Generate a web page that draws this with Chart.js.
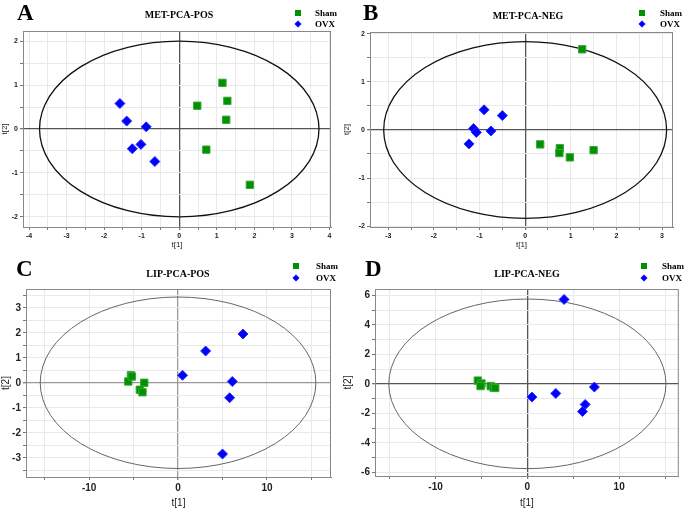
<!DOCTYPE html>
<html>
<head>
<meta charset="utf-8">
<script src="https://cdn.jsdelivr.net/npm/chart.js@4.4.1/dist/chart.umd.min.js"></script>
<style>
  body { margin: 0; background: #fff; }
  #wrap { position: relative; width: 685px; height: 509px; overflow: hidden; }
  .panel { position: absolute; }
  .panel canvas { position: absolute; left: 0; top: 0; }
  .letter { position: absolute; font: bold 23px "Liberation Serif", "Times New Roman", serif; color: #000; line-height: 1; }
  .title { position: absolute; font: bold 10px "Liberation Serif", "Times New Roman", serif; color: #000; transform: translate(-50%, -50%); white-space: nowrap; }
  .leg { position: absolute; font: bold 9px "Liberation Serif", "Times New Roman", serif; color: #000; white-space: nowrap; transform: translateY(-50%); }
  .sq { position: absolute; width: 6px; height: 6px; background: #009000; transform: translate(-50%, -50%); }
  .dm { position: absolute; width: 5px; height: 5px; background: #0000ff; transform: translate(-50%, -50%) rotate(45deg); }
</style>
</head>
<body>
<div id="wrap"></div>
<script>
// score values t[1], t[2]
const metPosSham = [[1.15, 1.05], [1.28, 0.64], [0.48, 0.53], [1.25, 0.21], [0.72, -0.47], [1.88, -1.27]];
const metPosOvx = [[-1.58, 0.58], [-1.40, 0.18], [-0.88, 0.05], [-1.25, -0.45], [-1.02, -0.35], [-0.65, -0.74]];

const metNegSham = [[1.25, 1.68], [0.33, -0.30], [0.76, -0.38], [0.75, -0.48], [0.98, -0.57], [1.50, -0.42]];
const metNegOvx = [[-0.90, 0.42], [-0.50, 0.30], [-1.13, 0.03], [-1.07, -0.05], [-0.75, -0.02], [-1.23, -0.29]];

const lipPosSham = [[-5.3, 0.30], [-5.6, 0.05], [-3.8, 0.00], [-4.3, -0.28], [-4.0, -0.38], [-5.2, 0.25]];
const lipPosOvx = [[7.3, 1.95], [3.1, 1.27], [0.5, 0.30], [6.1, 0.05], [5.8, -0.60], [5.0, -2.85]];

const lipNegSham = [[-5.4, 0.22], [-5.0, 0.02], [-5.1, -0.15], [-4.0, -0.15], [-3.7, -0.25], [-3.5, -0.28]];
const lipNegOvx = [[4.0, 5.72], [0.5, -0.90], [3.1, -0.65], [7.3, -0.22], [6.3, -1.40], [6.0, -1.88]];

const groupNames = ['Sham', 'OVX'];

// Hotelling ellipse radii (t1, t2) per panel
const ellipseRadii = { A: [3.72, 2.0], B: [3.1, 1.84], C: [15.5, 3.43], D: [15.1, 5.75] };

const panels = [
  { id: 'A', title: 'MET-PCA-POS', sham: metPosSham, ovx: metPosOvx,
    left: 0, top: 0, w: 342, h: 250, pad: { top: 31, right: 11 }, yW: 23, xH: 23,
    x: [-4.16, 4.04, 0.5, 1], y: [-2.23, 2.23, 0.5, 1], small: true,
    ell: '#111', ellW: 1.3, zero: '#555',
    titleXY: [179, 14], legXY: [298, 13, 24], legText: 315, letterXY: [17, 1] },
  { id: 'B', title: 'MET-PCA-NEG', sham: metNegSham, ovx: metNegOvx,
    left: 342, top: 0, w: 343, h: 250, pad: { top: 32, right: 12 }, yW: 28, xH: 23,
    x: [-3.4, 3.24, 0.5, 1], y: [-2.02, 2.04, 0.5, 1], small: true,
    ell: '#111', ellW: 1.3, zero: '#555',
    titleXY: [186, 15], legXY: [300, 13, 24], legText: 318, letterXY: [21, 1] },
  { id: 'C', title: 'LIP-PCA-POS', sham: lipPosSham, ovx: lipPosOvx,
    left: 0, top: 250, w: 342, h: 259, pad: { top: 39, right: 11 }, yW: 26, xH: 32,
    x: [-17.1, 17.2, 5, 10], y: [-3.77, 3.75, 0.5, 1], small: false,
    ell: '#666', ellW: 1, zero: '#999',
    titleXY: [178, 23], legXY: [296, 16, 28], legText: 316, letterXY: [16, 7] },
  { id: 'D', title: 'LIP-PCA-NEG', sham: lipNegSham, ovx: lipNegOvx,
    left: 342, top: 250, w: 343, h: 259, pad: { top: 39, right: 6 }, yW: 33, xH: 33,
    x: [-16.6, 16.5, 5, 10], y: [-6.25, 6.43, 1, 2], small: false,
    ell: '#666', ellW: 1, zero: '#555',
    titleXY: [185, 23], legXY: [302, 16, 28], legText: 320, letterXY: [23, 7] }
];

const hotelling = {
  id: 'hotelling',
  beforeDatasetsDraw(chart, args, opts) {
    const xs = chart.scales.x, ys = chart.scales.y, ctx = chart.ctx;
    const cx = xs.getPixelForValue(0), cy = ys.getPixelForValue(0);
    const rx = Math.abs(xs.getPixelForValue(opts.r[0]) - cx);
    const ry = Math.abs(ys.getPixelForValue(opts.r[1]) - cy);
    const a = chart.chartArea;
    ctx.save();
    ctx.strokeStyle = '#888';
    ctx.lineWidth = 1;
    ctx.strokeRect(a.left + 0.5, a.top + 0.5, a.right - a.left - 1, a.bottom - a.top);
    ctx.beginPath();
    ctx.ellipse(cx, cy, rx, ry, 0, 0, Math.PI * 2);
    ctx.strokeStyle = opts.color;
    ctx.lineWidth = opts.width;
    ctx.stroke();
    ctx.restore();
  }
};

function isMultiple(v, m) {
  return Math.abs(v / m - Math.round(v / m)) < 1e-6;
}

const wrap = document.getElementById('wrap');

panels.forEach(p => {
  const div = document.createElement('div');
  div.className = 'panel';
  div.style.left = p.left + 'px';
  div.style.top = p.top + 'px';
  div.style.width = p.w + 'px';
  div.style.height = p.h + 'px';
  const canvas = document.createElement('canvas');
  canvas.width = p.w;
  canvas.height = p.h;
  div.appendChild(canvas);

  div.insertAdjacentHTML('beforeend',
    `<div class="letter" style="left:${p.letterXY[0]}px;top:${p.letterXY[1]}px">${p.id}</div>` +
    `<div class="title" style="left:${p.titleXY[0]}px;top:${p.titleXY[1]}px">${p.title}</div>` +
    `<div class="sq" style="left:${p.legXY[0]}px;top:${p.legXY[1]}px"></div>` +
    `<div class="leg" style="left:${p.legText}px;top:${p.legXY[1]}px">${groupNames[0]}</div>` +
    `<div class="dm" style="left:${p.legXY[0]}px;top:${p.legXY[2]}px"></div>` +
    `<div class="leg" style="left:${p.legText}px;top:${p.legXY[2]}px">${groupNames[1]}</div>`);
  wrap.appendChild(div);

  const tickFont = p.small
    ? { family: 'Liberation Sans, Arial, sans-serif', size: 7, weight: 'bold' }
    : { family: 'Liberation Sans, Arial, sans-serif', size: 10, weight: 'bold' };
  const titleFont = p.small
    ? { family: 'Liberation Sans, Arial, sans-serif', size: 8 }
    : { family: 'Liberation Sans, Arial, sans-serif', size: 10 };

  const axis = (range, label, fitKey, fitVal) => ({
    type: 'linear',
    min: range[0],
    max: range[1],
    border: { color: '#777', width: 1 },
    grid: {
      color: c => (c.tick && c.tick.value === 0) ? p.zero : '#e9e9e9',
      lineWidth: c => (c.tick && c.tick.value === 0) ? 1.3 : 1,
      tickColor: '#777',
      tickLength: 3
    },
    ticks: {
      stepSize: range[2],
      includeBounds: false,
      autoSkip: false,
      maxRotation: 0,
      padding: 2,
      color: '#222',
      font: tickFont,
      callback: v => isMultiple(v, range[3]) ? String(Math.round(v)) : ''
    },
    title: { display: true, text: label, color: '#222', font: titleFont, padding: 0 },
    afterFit: s => { s[fitKey] = fitVal; }
  });

  new Chart(canvas.getContext('2d'), {
    type: 'scatter',
    data: {
      datasets: [
        {
          label: groupNames[0],
          data: p.sham.map(([x, y]) => ({ x, y })),
          pointStyle: 'rect',
          pointRadius: 5.2,
          backgroundColor: '#009000',
          borderColor: '#3aa83a',
          borderWidth: 1
        },
        {
          label: groupNames[1],
          data: p.ovx.map(([x, y]) => ({ x, y })),
          pointStyle: 'rectRot',
          pointRadius: 5,
          backgroundColor: '#0000ff',
          borderColor: '#2a2aff',
          borderWidth: 1
        }
      ]
    },
    options: {
      responsive: false,
      animation: false,
      devicePixelRatio: 1,
      layout: { padding: { left: 0, top: p.pad.top, right: p.pad.right, bottom: 0 } },
      scales: {
        x: axis(p.x, 't[1]', 'height', p.xH),
        y: axis(p.y, 't[2]', 'width', p.yW)
      },
      plugins: {
        legend: { display: false },
        tooltip: { enabled: false },
        hotelling: { r: ellipseRadii[p.id], color: p.ell, width: p.ellW }
      }
    },
    plugins: [hotelling]
  });
});
</script>
</body>
</html>
